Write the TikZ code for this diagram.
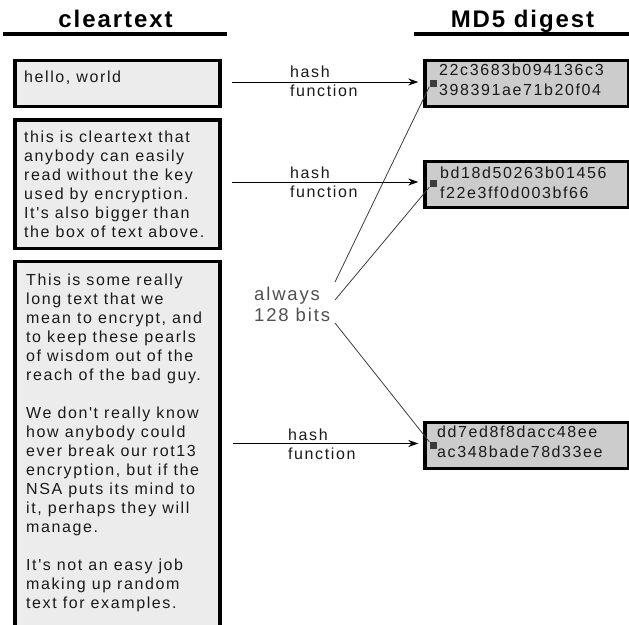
\documentclass[tikz,border=0pt]{standalone}
\usepackage{fontspec}
\setmainfont{Liberation Sans}
\newfontfamily\spacedfont[LetterSpace=10]{Liberation Sans}
\newfontfamily\headfont[LetterSpace=8]{Liberation Sans}
\usetikzlibrary{arrows.meta}

\definecolor{clearfill}{HTML}{ECECEC}
\definecolor{digestfill}{HTML}{CCCCCC}
\definecolor{inkgray}{HTML}{1A1A1A}
\definecolor{notegray}{HTML}{505050}
\definecolor{wiregray}{HTML}{3C3C3C}

\begin{document}
\begin{tikzpicture}[x=1pt,y=-1pt,
		clearbox/.style={draw=black,line width=3.3pt,fill=clearfill,anchor=north west,inner sep=0pt,minimum width=205pt},
		digestbox/.style={draw=black,line width=3.3pt,fill=digestfill,anchor=north west,inner sep=0pt,minimum width=204pt,minimum height=46pt},
		bodytext/.style={anchor=north west,inner sep=0pt,align=left,text=inkgray,font=\spacedfont\fontsize{16}{19}\selectfont},
		heading/.style={anchor=base,inner sep=0pt,font=\headfont\bfseries\fontsize{24}{28}\selectfont},
		hasharrow/.style={-{Stealth[length=10pt,width=7pt]},line width=1pt,shorten >=5pt},
		bitsline/.style={draw=wiregray,line width=0.8pt},
		marker/.style={fill=wiregray,inner sep=0pt,minimum size=7pt}]
		\useasboundingbox (0,0) rectangle (629,624);
		\clip (0,0) rectangle (629,624);
		
		% headings
		\node[heading] (clearhead) at (115.5,27) {cleartext};
		\node[heading] (md5head) at (522.5,27) {MD5 digest};
		\draw[line width=3.5pt] (3,34) -- (227,34);
		\draw[line width=3.5pt] (414,34) -- (629,34);
		
		% cleartext boxes
		\node[clearbox,minimum height=46pt] (hello) at (13.3,59) {};
		\node[clearbox,minimum height=128.7pt] (easy) at (13.3,118.3) {};
		\node[clearbox,minimum height=400pt] (long) at (13.3,260) {};
		\node[bodytext] (hellotext) at (24,70.3) {hello, world};
		\node[bodytext] (easytext) at (24,130.3) {this is cleartext that\\anybody can easily\\read without the key\\used by encryption.\\It's also bigger than\\the box of text above.};
		\node[bodytext] (longtext) at (26,273.3) {This is some really\\long text that we\\mean to encrypt, and\\to keep these pearls\\of wisdom out of the\\reach of the bad guy.\\[19pt]We don't really know\\how anybody could\\ever break our rot13\\encryption, but if the\\NSA puts its mind to\\it, perhaps they will\\manage.\\[19pt]It's not an easy job\\making up random\\text for examples.};
		
		% digest boxes
		\node[digestbox] (mdA) at (423.3,59) {};
		\node[digestbox] (mdB) at (423.3,160) {};
		\node[digestbox] (mdC) at (423.3,420.7) {};
		\node[bodytext,font=\spacedfont\fontsize{16}{20}\selectfont] (mdAtext) at (439,63.5) {22c3683b094136c3\\398391ae71b20f04};
		\node[bodytext,font=\spacedfont\fontsize{16}{20}\selectfont] (mdBtext) at (440,166.3) {bd18d50263b01456\\f22e3ff0d003bf66};
		\node[bodytext,font=\spacedfont\fontsize{16}{20}\selectfont] (mdCtext) at (437,425.5) {dd7ed8f8dacc48ee\\ac348bade78d33ee};
		
		% hash function arrows
		\coordinate (srcA) at (232,82);
		\coordinate (srcB) at (232,182);
		\coordinate (srcC) at (233,443.5);
		\draw[hasharrow] (srcA) -- (srcA -| mdA.west);
		\draw[hasharrow] (srcB) -- (srcB -| mdB.west);
		\draw[hasharrow] (srcC) -- (srcC -| mdC.west);
		\node[bodytext] (hashA) at (290,65.3) {hash\\function};
		\node[bodytext] (hashB) at (290,166.3) {hash\\function};
		\node[bodytext] (hashC) at (288,428.3) {hash\\function};
		
		% always 128 bits
		\node[bodytext,text=notegray,font=\spacedfont\fontsize{18.5}{21}\selectfont] (bits) at (254,286.5) {always\\128 bits};
		\coordinate (bitsA) at (335,282);
		\coordinate (bitsB) at (335,300);
		\coordinate (bitsC) at (335,323);
		\node[marker] (sqA) at (433,83) {};
		\node[marker] (sqB) at (433,183.5) {};
		\node[marker] (sqC) at (433,445.5) {};
		\draw[bitsline] (bitsA) -- (sqA.south west);
		\draw[bitsline] (bitsB) -- (sqB.south west);
		\draw[bitsline] (bitsC) -- (sqC.north west);
	\end{tikzpicture}
\end{document}
